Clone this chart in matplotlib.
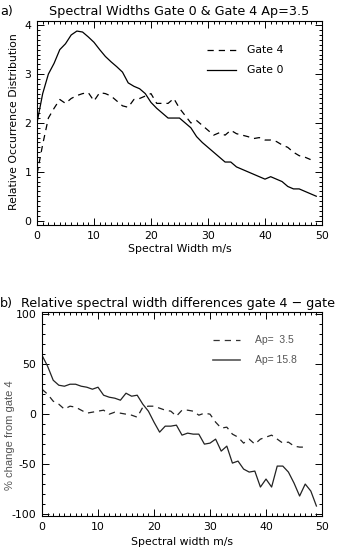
import numpy as np
import matplotlib
matplotlib.use('Agg')
import matplotlib.pyplot as plt
from matplotlib.ticker import MultipleLocator

# ─── DATOS ────────────────────────────────────────────────────────────────────
width_a = list(range(0, 50))
gate0 = [2.0, 2.6, 3.0, 3.22, 3.5, 3.62, 3.8, 3.88, 3.86, 3.76,
         3.65, 3.5, 3.36, 3.25, 3.15, 3.04, 2.82, 2.75, 2.7, 2.6,
         2.42, 2.3, 2.2, 2.1, 2.1, 2.1, 2.0, 1.9, 1.72, 1.6,
         1.5, 1.4, 1.3, 1.2, 1.2, 1.1, 1.05, 1.0, 0.95, 0.9,
         0.85, 0.9, 0.85, 0.8, 0.7, 0.65, 0.65, 0.6, 0.55, 0.5]
width_a4 = list(range(0, 49))
gate4 = [0.95, 1.56, 2.1, 2.3, 2.48, 2.4, 2.5, 2.56, 2.6, 2.62,
         2.45, 2.62, 2.6, 2.55, 2.45, 2.35, 2.32, 2.48, 2.5, 2.55,
         2.6, 2.4, 2.4, 2.4, 2.5, 2.3, 2.15, 2.0, 2.05, 1.95,
         1.85, 1.75, 1.8, 1.75, 1.85, 1.78, 1.75, 1.72, 1.68, 1.7,
         1.65, 1.65, 1.62, 1.55, 1.5, 1.4, 1.33, 1.3, 1.25]

width_b = list(range(0, 50))
ap158 = [59, 48, 34, 29, 28, 30, 30, 28, 27, 25,
         27, 19, 17, 16, 14, 21, 18, 19, 10, 3,
         -8, -18, -12, -12, -11, -21, -19, -20, -20, -30,
         -29, -25, -37, -32, -49, -47, -55, -58, -57, -73,
         -65, -73, -52, -52, -58, -69, -82, -70, -77, -92]
width_b35 = list(range(0, 48))
ap35 = [25, 20, 13, 10, 5, 8, 7, 4, 1, 2,
        3, 4, 0, 2, 1, 0, -1, -3, 7, 8,
        8, 6, 4, 3, -2, 4, 4, 3, -1, 1,
        0, -8, -14, -13, -20, -23, -29, -25, -30, -25,
        -23, -21, -25, -29, -28, -32, -33, -33]

# ─── ESTILO ───────────────────────────────────────────────────────────────────
plt.rcParams['font.family'] = ['DejaVu Sans']
plt.rcParams['axes.unicode_minus'] = False
FS = 7.8
FT = 9.2
DASH = (0, (5, 4))


def estilo_ejes(ax, y_major, y_minor):
    ax.xaxis.set_major_locator(MultipleLocator(10))
    ax.xaxis.set_minor_locator(MultipleLocator(1))
    ax.yaxis.set_major_locator(MultipleLocator(y_major))
    ax.yaxis.set_minor_locator(MultipleLocator(y_minor))
    ax.tick_params(which='both', direction='in', top=True, right=True,
                   labelsize=FS, width=0.7)
    ax.tick_params(which='major', length=5, pad=4)
    ax.tick_params(which='minor', length=2.5)
    for s in ax.spines.values():
        s.set_linewidth(0.8)


fig = plt.figure(figsize=(3.39, 5.53), dpi=100)

# ─── PANEL A ──────────────────────────────────────────────────────────────────
ax1 = fig.add_axes([0.1091, 0.593, 0.8407, 0.3694])
ax1.plot(width_a, gate0, color='black', lw=0.9)
ax1.plot(width_a4, gate4, color='black', lw=0.9, linestyle=DASH)
ax1.set_xlim(0, 50)
ax1.set_ylim(-0.09, 4.09)
estilo_ejes(ax1, 1, 0.1)

ax1.plot([29.9, 35], [3.49, 3.49], color='black', lw=0.9, linestyle=DASH)
ax1.plot([29.9, 35], [3.08, 3.08], color='black', lw=0.9)
ax1.text(36.9, 3.49, 'Gate 4', fontsize=FS, va='center')
ax1.text(36.9, 3.08, 'Gate 0', fontsize=FS, va='center')

fig.text(0.0, 1 - 12 / 553, 'a)', fontsize=FT, va='center', ha='left')
fig.text(179 / 339, 1 - 12 / 553, 'Spectral Widths Gate 0 & Gate 4 Ap=3.5',
         fontsize=FT, va='center', ha='center')
fig.text(179.5 / 339, 1 - 249 / 553, 'Spectral Width m/s',
         fontsize=FS, va='center', ha='center')
fig.text(14 / 339, 1 - 122 / 553, 'Relative Occurrence Distribution',
         fontsize=FS, va='center', ha='center', rotation=90)

# ─── PANEL B ──────────────────────────────────────────────────────────────────
ax2 = fig.add_axes([0.1239, 0.0669, 0.826, 0.3683])
ax2.plot(width_b, ap158, color='#222222', lw=0.9)
ax2.plot(width_b35, ap35, color='#222222', lw=0.9, linestyle=DASH)
ax2.set_xlim(0, 50)
ax2.set_ylim(-102, 102)
estilo_ejes(ax2, 50, 10)

ax2.plot([30.5, 35.3], [74, 74], color='#333333', lw=0.9, linestyle=DASH)
ax2.plot([30.5, 35.3], [54, 54], color='#555555', lw=1.2)
ax2.text(38, 74, 'Ap=  3.5', fontsize=7.5, va='center', color='#555555',
         family='Liberation Sans')
ax2.text(38, 54, 'Ap= 15.8', fontsize=7.5, va='center', color='#555555',
         family='Liberation Sans')

fig.text(0.0, 1 - 303 / 553, 'b)', fontsize=FT, va='center', ha='left')
fig.text(21 / 339, 1 - 303 / 553,
         'Relative spectral width differences gate 4 \u2212 gate 0',
         fontsize=FT, va='center', ha='left')
fig.text(182 / 339, 1 - 542 / 553, 'Spectral width m/s',
         fontsize=FS, va='center', ha='center')
fig.text(10 / 339, 1 - 435 / 553, '% change from gate 4',
         fontsize=8, va='center', ha='center', rotation=90, color='#555555',
         family='Liberation Sans')

fig.savefig('out.png', dpi=100)
